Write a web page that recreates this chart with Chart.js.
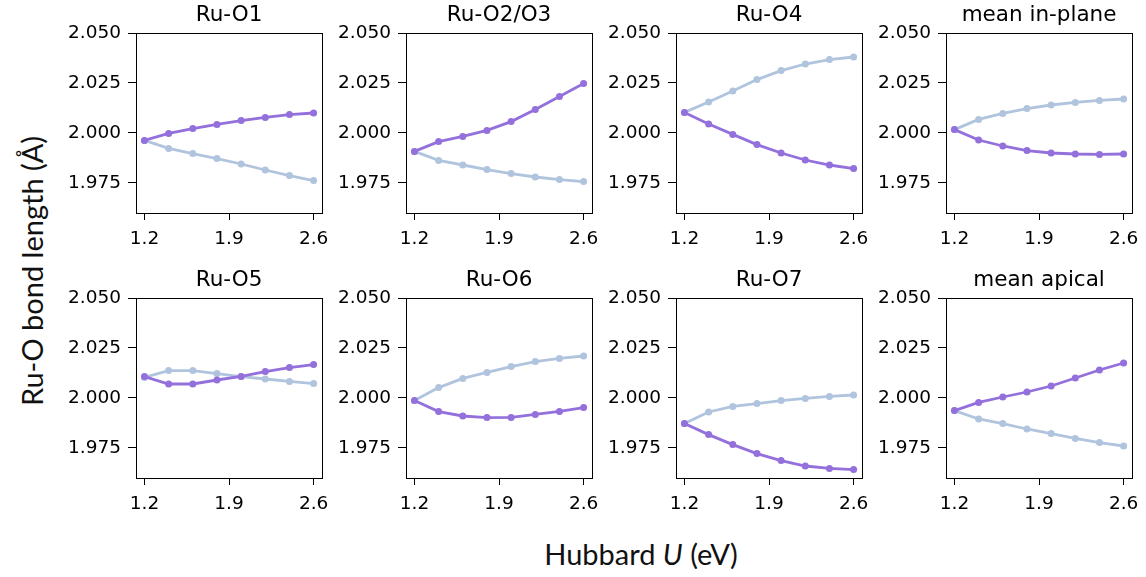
<!DOCTYPE html>
<html>
<head>
<meta charset="utf-8">
<script src="https://cdn.jsdelivr.net/npm/chart.js@4.4.0/dist/chart.umd.min.js"></script>
<style>
  html, body { margin: 0; background: #fff; }
  #fig { position: relative; width: 1146px; height: 577px; overflow: hidden; background: #fff; }
  #fig canvas { position: absolute; }
  .axis-title {
    position: absolute;
    font-family: "Lato", sans-serif;
    font-size: 29px;
    color: #111;
    white-space: nowrap;
    transform: translate(-50%, -50%);
  }
  #ylabel { left: 31px; top: 271px; transform: translate(-50%, -50%) rotate(-90deg); }
  #xlabel { left: 641px; top: 553px; }
</style>
</head>
<body>
<div id="fig">
  <div class="axis-title" id="ylabel">Ru-O bond length (Å)</div>
  <div class="axis-title" id="xlabel">Hubbard <i>U</i> (eV)</div>
</div>
<script>
const hubbardU = [1.2, 1.4, 1.6, 1.8, 2.0, 2.2, 2.4, 2.6];
const xTicks = [1.2, 1.9, 2.6];
const yTicks = [1.975, 2.000, 2.025, 2.050];

const o1Purple = [1.9963, 1.9998, 2.0022, 2.0043, 2.0062, 2.0078, 2.0092, 2.0100];
const o1Blue   = [1.9963, 1.9923, 1.9897, 1.9872, 1.9845, 1.9815, 1.9787, 1.9762];
const o23Purple = [1.9908, 1.9957, 1.9983, 2.0013, 2.0057, 2.0117, 2.0183, 2.0248];
const o23Blue   = [1.9908, 1.9863, 1.9840, 1.9817, 1.9797, 1.9780, 1.9767, 1.9757];
const o4Purple = [2.0103, 2.0045, 1.9993, 1.9942, 1.9900, 1.9865, 1.9840, 1.9822];
const o4Blue   = [2.0103, 2.0155, 2.0210, 2.0267, 2.0312, 2.0345, 2.0367, 2.0380];
const inPlanePurple = [2.0017, 1.9965, 1.9935, 1.9912, 1.9900, 1.9895, 1.9893, 1.9895];
const inPlaneBlue   = [2.0017, 2.0068, 2.0098, 2.0122, 2.0140, 2.0153, 2.0163, 2.0170];
const o5Purple = [2.0107, 2.0070, 2.0070, 2.0090, 2.0108, 2.0132, 2.0152, 2.0167];
const o5Blue   = [2.0103, 2.0137, 2.0137, 2.0122, 2.0107, 2.0095, 2.0083, 2.0072];
const o6Purple = [1.9987, 1.9932, 1.9910, 1.9902, 1.9903, 1.9918, 1.9933, 1.9952];
const o6Blue   = [1.9987, 2.0052, 2.0098, 2.0128, 2.0157, 2.0182, 2.0198, 2.0210];
const o7Purple = [1.9873, 1.9817, 1.9767, 1.9722, 1.9687, 1.9660, 1.9648, 1.9642];
const o7Blue   = [1.9873, 1.9930, 1.9958, 1.9972, 1.9987, 1.9998, 2.0008, 2.0015];
const apicalPurple = [1.9937, 1.9978, 2.0005, 2.0030, 2.0060, 2.0100, 2.0140, 2.0175];
const apicalBlue   = [1.9937, 1.9895, 1.9872, 1.9845, 1.9822, 1.9798, 1.9777, 1.9760];

const panels = [
  { title: 'Ru-O1', purple: o1Purple, blue: o1Blue },
  { title: 'Ru-O2/O3', purple: o23Purple, blue: o23Blue },
  { title: 'Ru-O4', purple: o4Purple, blue: o4Blue },
  { title: 'mean in-plane', purple: inPlanePurple, blue: inPlaneBlue },
  { title: 'Ru-O5', purple: o5Purple, blue: o5Blue },
  { title: 'Ru-O6', purple: o6Purple, blue: o6Blue },
  { title: 'Ru-O7', purple: o7Purple, blue: o7Blue },
  { title: 'mean apical', purple: apicalPurple, blue: apicalBlue },
];

const PURPLE = '#9370DB';
const BLUE = '#B0C4DE';

// grid geometry of the plot boxes
const colLeft = [136, 406, 676, 946];
const rowTop = [33, 298];
const plotW = 187, plotH = 180;
const yAxisW = 80, titleH = 35, xAxisH = 40, padRight = 14;

Chart.defaults.font.family = 'DejaVu Sans';
Chart.defaults.font.size = 18.5;
Chart.defaults.color = '#000';

// box around the plotting area (all four spines)
const framePlugin = {
  id: 'frame',
  afterDatasetsDraw(chart) {
    const { ctx, chartArea: a } = chart;
    ctx.save();
    ctx.strokeStyle = '#000';
    ctx.lineWidth = 1;
    ctx.strokeRect(Math.round(a.left) + 0.5, Math.round(a.top) + 0.5,
      Math.round(a.right - a.left), Math.round(a.bottom - a.top));
    ctx.restore();
  }
};

const toPoints = values => values.map((y, i) => ({ x: hubbardU[i], y }));

const series = (values, color) => ({
  data: toPoints(values),
  borderColor: color,
  backgroundColor: color,
  borderWidth: 2.8,
  pointRadius: 3.5,
  pointBorderWidth: 0,
  pointBackgroundColor: color,
  tension: 0,
});

const fig = document.getElementById('fig');

panels.forEach((p, i) => {
  const col = i % 4, row = Math.floor(i / 4);
  const canvas = document.createElement('canvas');
  const w = yAxisW + plotW + padRight;
  const h = titleH + plotH + xAxisH;
  canvas.width = w;
  canvas.height = h;
  canvas.style.width = w + 'px';
  canvas.style.height = h + 'px';
  canvas.style.left = (colLeft[col] - yAxisW) + 'px';
  canvas.style.top = (rowTop[row] - titleH) + 'px';
  fig.appendChild(canvas);

  new Chart(canvas.getContext('2d'), {
    type: 'line',
    data: {
      datasets: [series(p.purple, PURPLE), series(p.blue, BLUE)]
    },
    options: {
      responsive: false,
      animation: false,
      devicePixelRatio: 1,
      layout: { padding: { top: 0, left: 0, right: padRight, bottom: 0 } },
      plugins: {
        legend: { display: false },
        tooltip: { enabled: false },
        title: {
          display: true,
          fullSize: false,
          text: p.title,
          font: { size: 21.5, weight: 'normal', lineHeight: '26px' },
          padding: { top: 4, bottom: 5 },
          color: '#000'
        }
      },
      scales: {
        x: {
          type: 'linear',
          min: 1.13,
          max: 2.67,
          border: { display: false },
          grid: { drawOnChartArea: false, tickLength: 7, color: '#000' },
          ticks: { padding: 8, maxRotation: 0, callback: v => v.toFixed(1) },
          afterBuildTicks: s => { s.ticks = xTicks.map(value => ({ value })); },
          afterFit: s => { s.height = xAxisH; }
        },
        y: {
          min: 1.96,
          max: 2.05,
          border: { display: false },
          grid: { drawOnChartArea: false, tickLength: 8, color: '#000' },
          ticks: { padding: 7, callback: v => v.toFixed(3) },
          afterBuildTicks: s => { s.ticks = yTicks.map(value => ({ value })); },
          afterFit: s => { s.width = yAxisW; }
        }
      }
    },
    plugins: [framePlugin]
  });
});
</script>
</body>
</html>
